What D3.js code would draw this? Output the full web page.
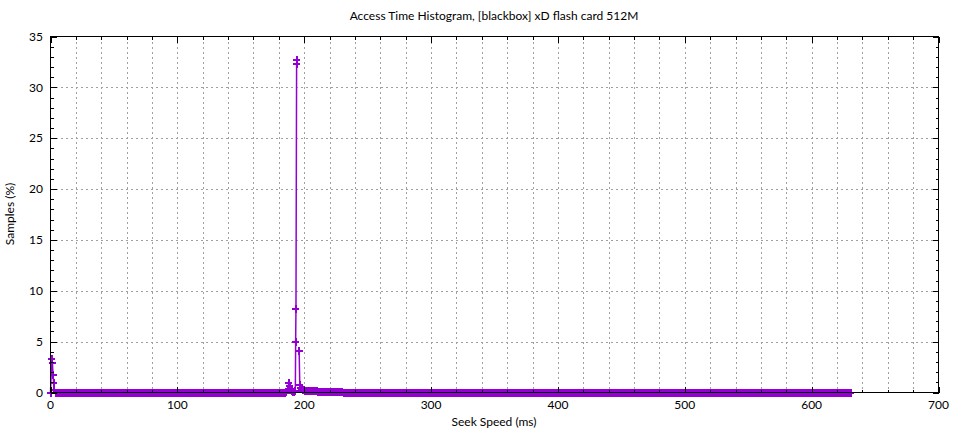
<!DOCTYPE html>
<html><head><meta charset="utf-8">
<script src="https://cdn.jsdelivr.net/npm/d3@7"></script>
<style>body{margin:0;background:#fff} text{font-family:Lato, "Open Sans", sans-serif;fill:#000}</style>
</head><body>
<svg id="c" width="960" height="432"></svg>
<script>
const titleText = "Access Time Histogram, [blackbox] xD flash card 512M";
const xLabelText = "Seek Speed (ms)";
const yLabelText = "Samples (%)";
const xTickValues = [0, 100, 200, 300, 400, 500, 600, 700];
const yTickValues = [0, 5, 10, 15, 20, 25, 30, 35];

// 1 ms histogram bins, each segment starts at its own bin (ms)
const leadStartMs = 0;
const leadPct = [0, 3.3, 1.75, 0.3];
const quietAStartMs = 4;
const quietAPct = [
0,0,0,0,0,0,0,0,0,0,0,0,0,0,0,0,0,0,0,0,
0,0,0,0,0,0,0,0,0,0,0,0,0,0,0,0,0,0,0,0,
0,0,0,0,0,0,0,0,0,0,0,0,0,0,0,0,0,0,0,0,
0,0,0,0,0,0,0,0,0,0,0,0,0,0,0,0,0,0,0,0,
0,0,0,0,0,0,0,0,0,0,0,0,0,0,0,0,0,0,0,0,
0,0,0,0,0,0,0,0,0,0,0,0,0,0,0,0,0,0,0,0,
0,0,0,0,0,0,0,0,0,0,0,0,0,0,0,0,0,0,0,0,
0,0,0,0,0,0,0,0,0,0,0,0,0,0,0,0,0,0,0,0,
0,0,0,0,0,0,0,0,0,0,0,0,0,0,0,0,0,0,0,0,
0,0];
const peakStartMs = 186;
const peakPct = [0.1, 0.3, 1.0, 0.3, 0.15, 0.1, 0.1, 0.2, 32.3, null, 4.1, 0.5, 0.4, 0.3, 0.3,
0.2,0.2,0.2,0.2,0.2,0.2,0.2,0.2,0.2,0.2,
0.1,0.1,0.1,0.1,0.1,0.1,0.1,0.1,0.1,0.1,0.1,0.1,0.1,0.1,0.1,0.1,0.1,0.1,0.1,0.1];
const quietBStartMs = 231;
const quietBPct = [
0,0,0,0,0,0,0,0,0,0,0,0,0,0,0,0,0,0,0,0,
0,0,0,0,0,0,0,0,0,0,0,0,0,0,0,0,0,0,0,0,
0,0,0,0,0,0,0,0,0,0,0,0,0,0,0,0,0,0,0,0,
0,0,0,0,0,0,0,0,0,0,0,0,0,0,0,0,0,0,0,0,
0,0,0,0,0,0,0,0,0,0,0,0,0,0,0,0,0,0,0,0,
0,0,0,0,0,0,0,0,0,0,0,0,0,0,0,0,0,0,0,0,
0,0,0,0,0,0,0,0,0,0,0,0,0,0,0,0,0,0,0,0,
0,0,0,0,0,0,0,0,0,0,0,0,0,0,0,0,0,0,0,0,
0,0,0,0,0,0,0,0,0,0,0,0,0,0,0,0,0,0,0,0,
0,0,0,0,0,0,0,0,0,0,0,0,0,0,0,0,0,0,0,0,
0,0,0,0,0,0,0,0,0,0,0,0,0,0,0,0,0,0,0,0,
0,0,0,0,0,0,0,0,0,0,0,0,0,0,0,0,0,0,0,0,
0,0,0,0,0,0,0,0,0,0,0,0,0,0,0,0,0,0,0,0,
0,0,0,0,0,0,0,0,0,0,0,0,0,0,0,0,0,0,0,0,
0,0,0,0,0,0,0,0,0,0,0,0,0,0,0,0,0,0,0,0,
0,0,0,0,0,0,0,0,0,0,0,0,0,0,0,0,0,0,0,0,
0,0,0,0,0,0,0,0,0,0,0,0,0,0,0,0,0,0,0,0,
0,0,0,0,0,0,0,0,0,0,0,0,0,0,0,0,0,0,0,0,
0,0,0,0,0,0,0,0,0,0,0,0,0,0,0,0,0,0,0,0,
0,0,0,0,0,0,0,0,0,0,0,0,0,0,0,0,0,0,0,0,
0];
// finer samples between bins
const detailMs  = [1.5, 2.5, 188.5, 193.25, 193.5, 194.25, 196.5];
const detailPct = [2.95, 0.95, 0.7, 5.0, 8.3, 32.7, 0.8];

const segments = [[leadStartMs, leadPct],[quietAStartMs, quietAPct],[peakStartMs, peakPct],[quietBStartMs, quietBPct]];
let pts = [];
segments.forEach(([s, arr]) => arr.forEach((v, i) => pts.push({ms: s + i, pct: v})));
detailMs.forEach((m, i) => pts.push({ms: m, pct: detailPct[i]}));
pts.sort((a, b) => a.ms - b.ms);

const color = "#9400D3";
const svg = d3.select("#c");
const L = 50.5, R = 938.5, T = 36.5, B = 392.5;
const x = d3.scaleLinear().domain([0, 700]).range([L, R]);
const y = d3.scaleLinear().domain([0, 35]).range([B, T]);

// grid
const gGrid = svg.append("g").attr("stroke", "#a0a0a0").attr("stroke-width", 1).attr("stroke-dasharray", "2,3").attr("shape-rendering", "crispEdges");
const xMinor = d3.range(20, 700, 20);
gGrid.selectAll("line.v").data(xMinor).join("line").attr("x1", d => Math.round(x(d)) + 0.5).attr("x2", d => Math.round(x(d)) + 0.5).attr("y1", T).attr("y2", B);
gGrid.selectAll("line.h").data(yTickValues.filter(d => d > 0 && d < 35)).join("line").attr("y1", d => Math.round(y(d)) + 0.5).attr("y2", d => Math.round(y(d)) + 0.5).attr("x1", L).attr("x2", R);

// data
const line = d3.line().defined(d => d.pct != null).x(d => x(d.ms)).y(d => y(d.pct));
svg.append("path").datum(pts).attr("d", line).attr("fill", "none").attr("stroke", color).attr("stroke-width", 1.5);
svg.append("g").attr("shape-rendering", "crispEdges").selectAll("path").data(pts.filter(d => d.pct != null)).join("path")
  .attr("transform", d => `translate(${x(d.ms)},${y(d.pct) + 0.5})`)
  .attr("d", "M-3.5,0H3.5M0,-4V4").attr("stroke", color).attr("stroke-width", 2).attr("fill", "none");

// border & ticks
const gAx = svg.append("g").attr("stroke", "#000").attr("stroke-width", 1).attr("shape-rendering", "crispEdges").attr("fill", "none");
gAx.append("rect").attr("x", L).attr("y", T).attr("width", R - L).attr("height", B - T);
const xMin = d3.range(0, 701, 20).filter(d => d % 100 !== 0);
const yMin = d3.range(0, 36, 1).filter(d => d % 5 !== 0);
xTickValues.forEach(d => { const px = Math.round(x(d)) + 0.5;
  gAx.append("line").attr("x1", px).attr("x2", px).attr("y1", B).attr("y2", B - 6);
  gAx.append("line").attr("x1", px).attr("x2", px).attr("y1", T).attr("y2", T + 6); });
xMin.forEach(d => { const px = Math.round(x(d)) + 0.5;
  gAx.append("line").attr("x1", px).attr("x2", px).attr("y1", B).attr("y2", B - 3);
  gAx.append("line").attr("x1", px).attr("x2", px).attr("y1", T).attr("y2", T + 3); });
yTickValues.forEach(d => { const py = Math.round(y(d)) + 0.5;
  gAx.append("line").attr("x1", L).attr("x2", L + 6).attr("y1", py).attr("y2", py);
  gAx.append("line").attr("x1", R).attr("x2", R - 6).attr("y1", py).attr("y2", py); });
yMin.forEach(d => { const py = Math.round(y(d)) + 0.5;
  gAx.append("line").attr("x1", L).attr("x2", L + 3).attr("y1", py).attr("y2", py);
  gAx.append("line").attr("x1", R).attr("x2", R - 3).attr("y1", py).attr("y2", py); });

// labels
svg.append("g").selectAll("text").data(xTickValues).join("text")
  .attr("x", d => x(d)).attr("y", 409).attr("text-anchor", "middle").attr("font-size", 12).text(d => d);
svg.append("g").selectAll("text").data(yTickValues).join("text")
  .attr("x", 43).attr("y", d => y(d)).attr("dy", "0.35em").attr("text-anchor", "end").attr("font-size", 12).text(d => d);
svg.append("text").attr("x", 494).attr("y", 20).attr("text-anchor", "middle").attr("font-size", 12).text(titleText);
svg.append("text").attr("x", 494).attr("y", 426).attr("text-anchor", "middle").attr("font-size", 12).text(xLabelText);
svg.append("text").attr("transform", "translate(14,214) rotate(-90)").attr("text-anchor", "middle").attr("font-size", 12).text(yLabelText);
</script>
</body></html>
